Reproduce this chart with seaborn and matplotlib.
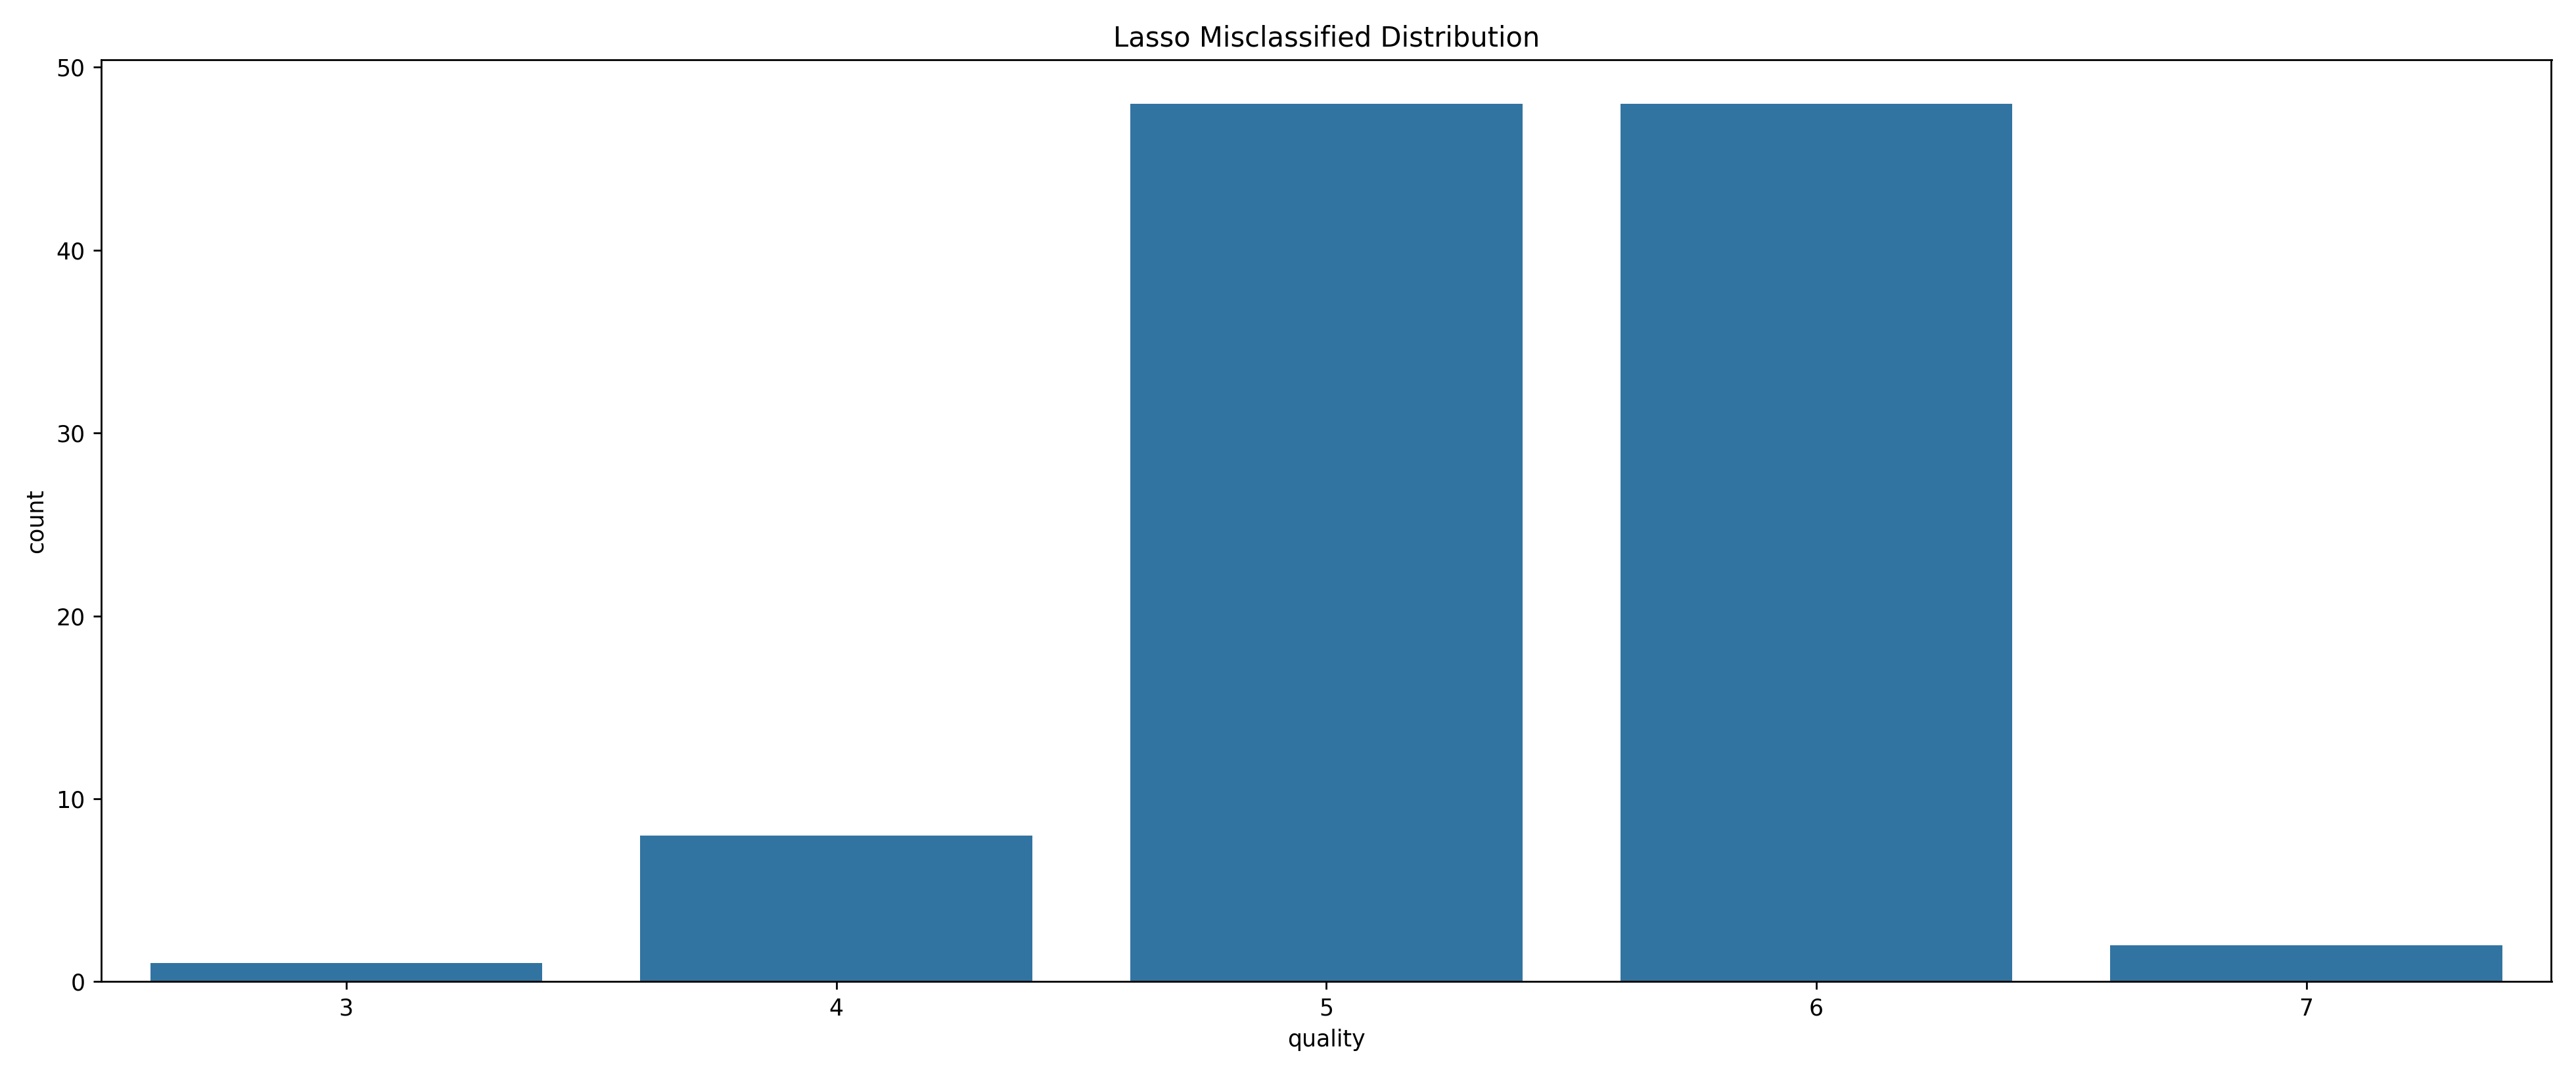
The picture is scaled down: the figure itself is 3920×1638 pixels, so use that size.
import numpy as np
import pandas as pd
import seaborn as sns
import matplotlib
matplotlib.use('Agg')
import matplotlib.pyplot as plt

# Data
quality = [3, 4, 5, 6, 7]
counts = [1, 8, 48, 48, 2]

df = pd.DataFrame({'quality': quality, 'count': counts})

fig, ax = plt.subplots(figsize=(15.68, 6.552), dpi=250)
sns.barplot(x='quality', y='count', data=df, color='#1f77b4', saturation=0.75, ax=ax)
ax.set_title('Lasso Misclassified Distribution')
ax.set_xlabel('quality')
ax.set_ylabel('count')
plt.tight_layout()
plt.savefig('out.png', dpi=250)
